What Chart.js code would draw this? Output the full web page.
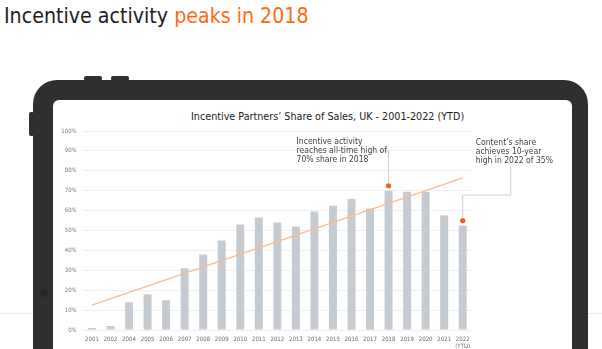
<!DOCTYPE html>
<html lang="en">
<head>
    <meta charset="UTF-8">
    <title>Incentive activity peaks in 2018</title>
    <style>
        body { margin: 0; width: 602px; height: 349px; overflow: hidden; background: #fff; position: relative;
               font-family: "DejaVu Sans Condensed", "DejaVu Sans", sans-serif; }
        .headline { position: absolute; left: 4px; top: 5px; font-size: 21.2px; line-height: 22px; color: #1d1d1d; white-space: nowrap; }
        .headline span { color: #ff6a13; }
        .floor { position: absolute; left: 0; right: 0; top: 313px; height: 1px; background: #ececec; }
        .tablet { position: absolute; left: 33px; top: 80px; width: 555px; height: 320px; background: #2f2f2f; border-radius: 24px; }
        .btn { position: absolute; background: #2f2f2f; }
        .camera { position: absolute; left: 40px; top: 289px; width: 8px; height: 8px; border-radius: 50%; background: #262626; }
        .screen { position: absolute; left: 53px; top: 100px; width: 519px; height: 260px; background: #fff; border-radius: 6px; }
        .chart-title { position: absolute; left: 191px; top: 110px; font-size: 10.7px; color: #222; white-space: nowrap; }
        #chart-box { position: absolute; left: 53px; top: 100px; width: 519px; height: 249px; }
    </style>
</head>
<body>
    <div class="headline">Incentive activity <span>peaks in 2018</span></div>
    <div class="floor"></div>
    <div class="btn" style="left:84px;top:76px;width:18px;height:5px;border-radius:2px;"></div>
    <div class="btn" style="left:111px;top:76px;width:18px;height:5px;border-radius:2px;"></div>
    <div class="btn" style="left:29px;top:112px;width:5px;height:24px;border-radius:2px;"></div>
    <div class="tablet"></div>
    <div class="camera"></div>
    <div class="screen"></div>
    <div class="chart-title">Incentive Partners’ Share of Sales, UK - 2001-2022 (YTD)</div>
    <div id="chart-box"><canvas id="share-chart" width="519" height="249"></canvas></div>

    <script src="https://cdn.jsdelivr.net/npm/chart.js"></script>
    <script>
        // data (2003 is not shown in the source)
        const years = ['2001', '2002', '2004', '2005', '2006', '2007', '2008', '2009', '2010', '2011',
                       '2012', '2013', '2014', '2015', '2016', '2017', '2018', '2019', '2020', '2021',
                       ['2022', '(YTD)']];
        const partnerShare = [1, 2, 14, 18, 15, 31, 38, 45, 53, 56.5,
                              54, 52, 59.5, 62.5, 66, 61, 70, 69.5, 69.5, 57.5, 52.5];
        // trend line end points, straight between them
        const trendShare = [12.5, null, null, null, null, null, null, null, null, null,
                            null, null, null, null, null, null, null, null, null, null, 76.5];
        // orange markers over the highlighted bars
        const markerShare = [null, null, null, null, null, null, null, null, null, null,
                             null, null, null, null, null, null, 72.5, null, null, null, 55];
        const yTicks = [0, 10, 20, 30, 40, 50, 60, 70, 80, 90, 100];

        const calloutPeak = ['Incentive activity', 'reaches all-time high of', '70% share in 2018'];
        const calloutYtd = ['Content’s share', 'achieves 10-year', 'high in 2022 of 35%'];

        const FONT = '"DejaVu Sans Condensed", "DejaVu Sans", sans-serif';

        // callout text and leader lines
        const calloutPlugin = {
            id: 'callouts',
            afterDatasetsDraw(chart) {
                const ctx = chart.ctx;
                const xs = chart.scales.x;
                const ys = chart.scales.y;
                const x18 = xs.getPixelForValue(16);
                const x22 = xs.getPixelForValue(20);
                const lineTop = ys.getPixelForValue(90);

                ctx.save();
                ctx.strokeStyle = '#cfcfcf';
                ctx.lineWidth = 1;
                ctx.beginPath();
                ctx.moveTo(x18 - 6, lineTop);
                ctx.lineTo(x18, lineTop);
                ctx.lineTo(x18, ys.getPixelForValue(72.5) - 3);
                ctx.stroke();

                const elbowY = ys.getPixelForValue(67.8);
                ctx.beginPath();
                ctx.moveTo(x22, ys.getPixelForValue(55) - 3);
                ctx.lineTo(x22, elbowY);
                ctx.lineTo(x22 + 48, elbowY);
                ctx.lineTo(x22 + 48, ys.getPixelForValue(82));
                ctx.stroke();

                ctx.fillStyle = '#3f3f3f';
                ctx.font = '8.5px ' + FONT;
                ctx.textBaseline = 'middle';
                calloutPeak.forEach((t, i) => ctx.fillText(t, x18 - 92, lineTop - 9 + i * 9));
                calloutYtd.forEach((t, i) => ctx.fillText(t, x22 + 13, lineTop - 8 + i * 9));
                ctx.restore();
            }
        };

        new Chart(document.getElementById('share-chart'), {
            type: 'bar',
            data: {
                labels: years,
                datasets: [
                    {
                        type: 'line',
                        data: markerShare,
                        showLine: false,
                        pointRadius: 2.6,
                        pointBackgroundColor: '#ff5a10',
                        pointBorderWidth: 0,
                        order: -1
                    },
                    {
                        type: 'line',
                        data: trendShare,
                        spanGaps: true,
                        borderColor: '#f9bd92',
                        borderWidth: 1.3,
                        pointRadius: 0,
                        order: 0
                    },
                    {
                        data: partnerShare,
                        backgroundColor: '#c5cbd1',
                        barPercentage: 0.86,
                        categoryPercentage: 0.5,
                        order: 1
                    }
                ]
            },
            options: {
                responsive: false,
                animation: false,
                layout: { padding: { left: 0, right: 100, top: 31, bottom: 0 } },
                plugins: {
                    legend: { display: false },
                    title: { display: false },
                    tooltip: { enabled: false }
                },
                scales: {
                    x: {
                        grid: { display: false, drawTicks: false },
                        border: { display: false },
                        ticks: {
                            color: '#6a6a6a',
                            font: { family: FONT, size: 6 },
                            padding: 6,
                            maxRotation: 0,
                            autoSkip: false
                        },
                        afterFit(scale) { scale.height = 19; }
                    },
                    y: {
                        min: 0,
                        max: 100,
                        afterBuildTicks(scale) { scale.ticks = yTicks.map(v => ({ value: v })); },
                        grid: { color: '#efefef', drawTicks: false },
                        border: { display: false },
                        ticks: {
                            color: '#7a7a7a',
                            font: { family: FONT, size: 6 },
                            padding: 6,
                            callback: v => v + '%'
                        },
                        afterFit(scale) { scale.width = 29.7; }
                    }
                }
            },
            plugins: [calloutPlugin]
        });
    </script>
</body>
</html>
